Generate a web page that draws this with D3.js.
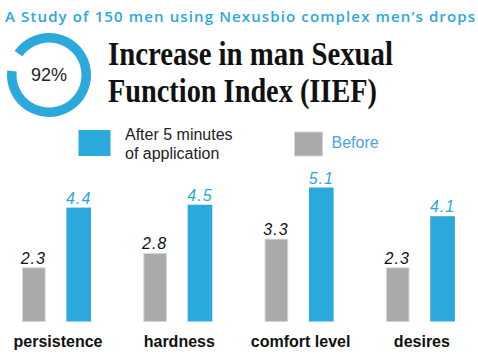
<!DOCTYPE html>
<html><head><meta charset="utf-8">
<script src="https://cdn.jsdelivr.net/npm/d3@7"></script>
<style>body{margin:0;background:#fff}svg{display:block}</style>
</head><body>
<svg id="c" width="478" height="359"></svg>
<script>
const categories = ["persistence", "hardness", "comfort level", "desires"];
const before = [2.3, 2.8, 3.3, 2.3];
const after = [4.4, 4.5, 5.1, 4.1];
const series = ["Before", "After"];
const donutPct = 92;
const subtitle = "A Study of 150 men using Nexusbio complex men\u2019s drops";
const titleLines = ["Increase in man Sexual", "Function Index (IIEF)"];
const legendAfter = ["After 5 minutes", "of application"];
const legendBefore = "Before";

const BLUE = "#2ba8dc", GRAY = "#aaa9ab";
const svg = d3.select("#c");

// subtitle
svg.append("text").attr("x", 5).attr("y", 22)
  .attr("textLength", 470).attr("lengthAdjust", "spacing")
  .style("font-family", "'Open Sans', sans-serif").style("font-weight", 600)
  .style("font-size", "15px").attr("fill", BLUE).text(subtitle);

// donut
const arc = d3.arc().innerRadius(32.5).outerRadius(42);
const start = -55 * Math.PI / 180;
const pie = svg.append("g").attr("transform", "translate(49,75)");
pie.append("path").attr("fill", BLUE)
  .attr("d", arc({startAngle: start, endAngle: start + 2 * Math.PI * donutPct / 100}));
pie.append("text").attr("y", 6).attr("text-anchor", "middle")
  .style("font-family", "Arimo, 'Liberation Sans', Arial, sans-serif")
  .style("font-size", "18px").attr("fill", "#222").text(donutPct + "%");

// title
titleLines.forEach((t, i) => {
  svg.append("text").attr("x", 108).attr("y", 65 + i * 37)
    .attr("textLength", i === 0 ? 285 : 269).attr("lengthAdjust", "spacingAndGlyphs")
    .style("font-family", "'Liberation Serif', 'Times New Roman', serif")
    .style("font-weight", "bold").style("font-size", "33px").attr("fill", "#111").text(t);
});

// legend
const lf = "'Liberation Sans', Arial, sans-serif";
svg.append("rect").attr("x", 78.5).attr("y", 130).attr("width", 32).attr("height", 26).attr("fill", BLUE);
legendAfter.forEach((t, i) => {
  svg.append("text").attr("x", 125).attr("y", 140 + i * 18.5)
    .style("font-family", lf).style("font-size", "16px").attr("fill", "#222").text(t);
});
svg.append("rect").attr("x", 294.5).attr("y", 132).attr("width", 28).attr("height", 24)
  .attr("fill", GRAY).attr("stroke", "#d6d6d6").attr("stroke-width", 1);
svg.append("text").attr("x", 331.5).attr("y", 148.3)
  .style("font-family", lf).style("font-size", "16px").attr("fill", "#4aa6d8").text(legendBefore);

// bars
const step = 121.3;
const x0 = d3.scaleBand().domain(categories).range([22, 22 + step * categories.length]).paddingInner(0);
const x1 = d3.scaleBand().domain(series).range([0, 69]).paddingInner(0.445);
const y = d3.scaleLinear().domain([0.43, 5.1]).range([321.5, 187.5]);

const data = categories.map((c, i) => ({c, vals: [{s: "Before", v: before[i]}, {s: "After", v: after[i]}]}));
const g = svg.append("g");
const grp = g.selectAll("g").data(data).join("g").attr("transform", d => `translate(${x0(d.c)},0)`);
grp.selectAll("rect").data(d => d.vals).join("rect")
  .attr("x", d => x1(d.s) + (d.s === "Before" ? 0.5 : 0))
  .attr("y", d => y(d.v))
  .attr("width", d => d.s === "Before" ? x1.bandwidth() - 2 : x1.bandwidth())
  .attr("height", d => y.range()[0] - y(d.v))
  .attr("fill", d => d.s === "Before" ? GRAY : BLUE)
  .attr("stroke", d => d.s === "Before" ? "#d6d6d6" : "none").attr("stroke-width", 1);
grp.selectAll("text.v").data(d => d.vals).join("text").attr("class", "v")
  .attr("x", d => x1(d.s) + x1.bandwidth() / 2 - (d.s === "Before" ? 1 : 0))
  .attr("y", d => y(d.v) - 4)
  .attr("text-anchor", "middle")
  .style("font-family", lf).style("font-style", "italic").style("font-size", "16px")
  .style("letter-spacing", "1px")
  .attr("fill", d => d.s === "Before" ? "#111" : BLUE).text(d => d.v.toFixed(1));
grp.append("text").attr("x", 36).attr("y", 347).attr("text-anchor", "middle")
  .style("font-family", lf).style("font-weight", "bold").style("font-size", "16px")
  .attr("fill", "#111").text(d => d.c);
</script>
</body></html>
